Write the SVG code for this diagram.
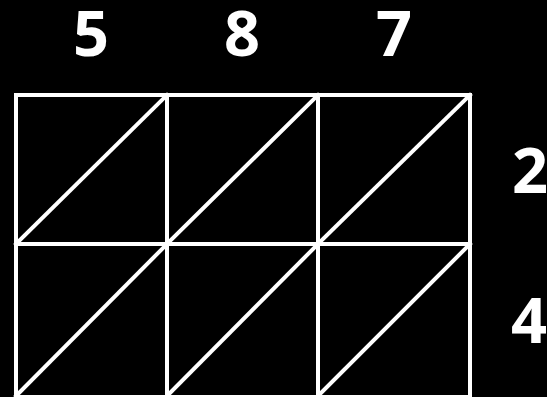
<svg xmlns="http://www.w3.org/2000/svg" width="547" height="397" viewBox="0 0 547 397">
<style>
.g{stroke:#fff;stroke-width:4;fill:none;stroke-linecap:square}
.d{font-family:"Open Sans","Noto Sans","DejaVu Sans",sans-serif;font-weight:bold;font-size:63px;fill:#fff;text-anchor:middle}
</style>
<rect width="547" height="397" fill="#000"/>
<g id="grid" class="g">
<rect x="16" y="95" width="454" height="302"/>
<line x1="167" y1="95" x2="167" y2="397"/>
<line x1="318" y1="95" x2="318" y2="397"/>
<line x1="16" y1="244" x2="470" y2="244"/>
</g>
<g id="connectors" class="g">
<line x1="16" y1="244" x2="167" y2="95"/>
<line x1="167" y1="244" x2="318" y2="95"/>
<line x1="318" y1="244" x2="470" y2="95"/>
<line x1="16" y1="396" x2="167" y2="244"/>
<line x1="167" y1="396" x2="318" y2="244"/>
<line x1="318" y1="396" x2="470" y2="244"/>
</g>
<g id="top5"><text class="d" x="91" y="56">5</text></g>
<g id="top8"><text class="d" x="242" y="56">8</text></g>
<g id="top7"><text class="d" x="394" y="56">7</text></g>
<g id="side2"><text class="d" x="530" y="193">2</text></g>
<g id="side4"><text class="d" x="529" y="343">4</text></g>
</svg>
